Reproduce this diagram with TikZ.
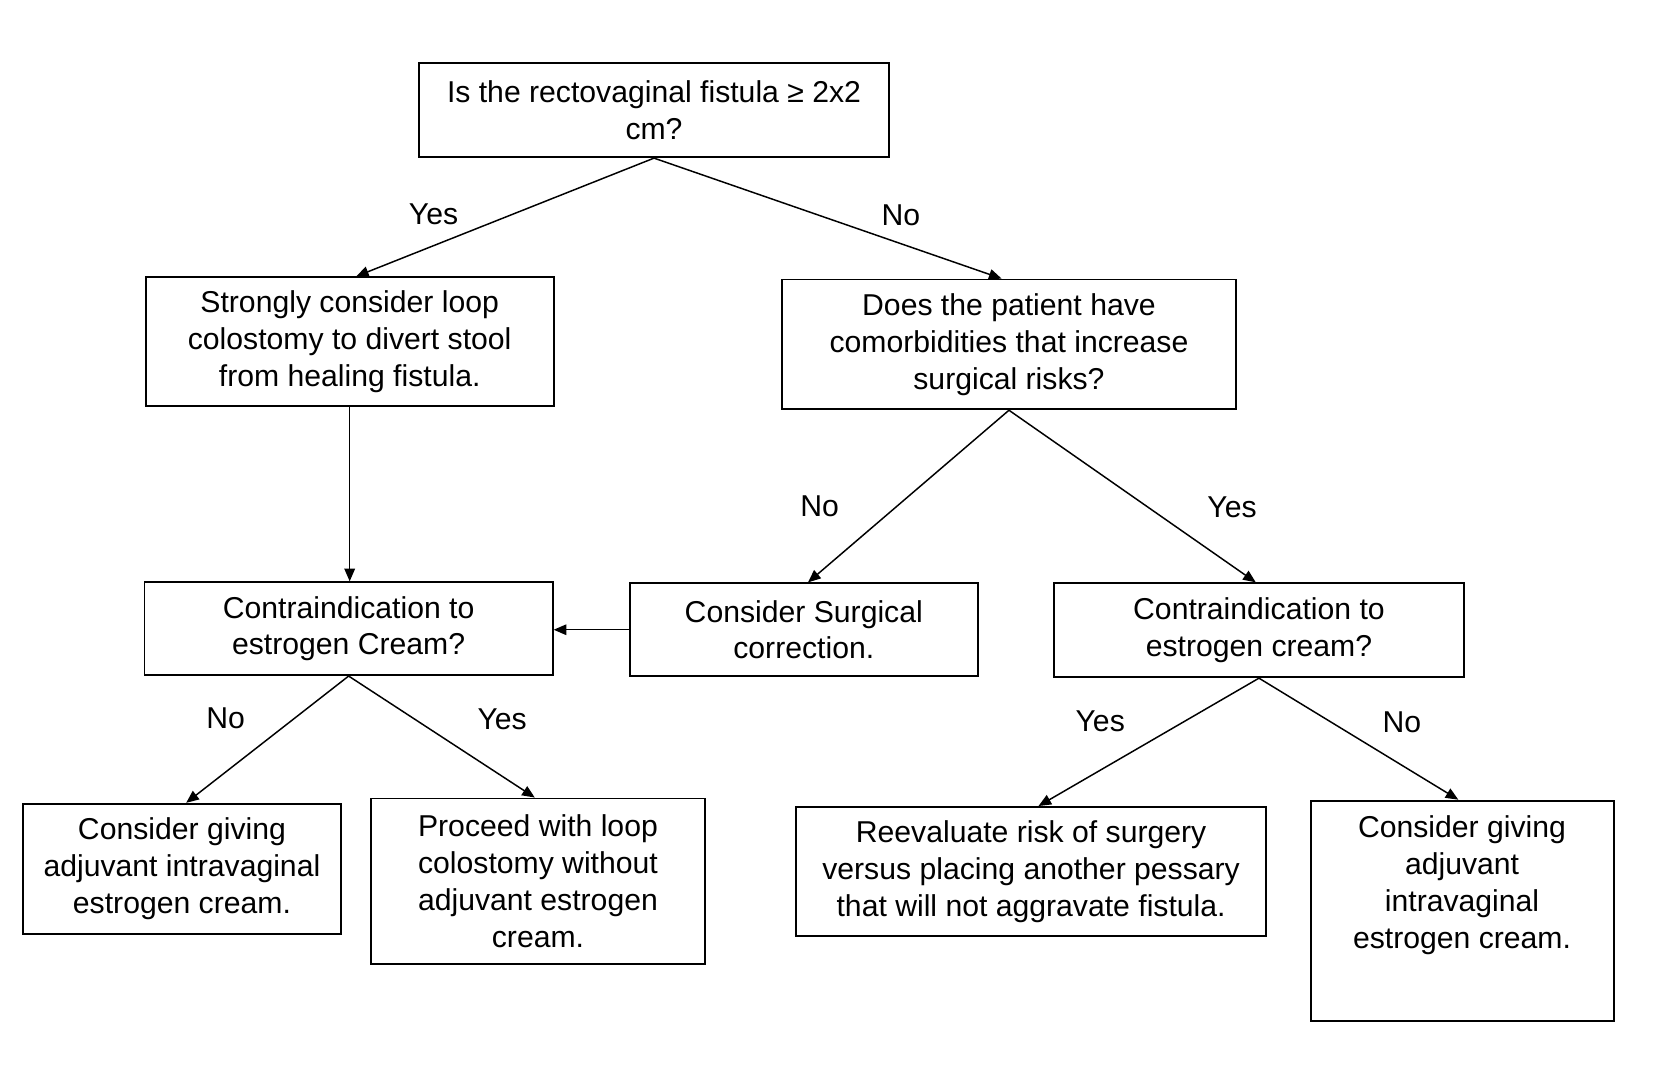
\documentclass[tikz,border=0pt]{standalone}
\usepackage{fontspec}
\setmainfont{Liberation Sans}
\usetikzlibrary{arrows.meta}
\begin{document}
\begin{tikzpicture}[x=0.5pt,y=-0.5pt,
	every node/.style={font=\fontsize{14.3}{17.5}\selectfont},
	box/.style={draw,line width=0.9pt,align=center,inner sep=0pt},
	arr/.style={-{Triangle[length=6pt,width=5pt]},line width=0.7pt}]
	\useasboundingbox (0,0) rectangle (1568,1022);
	
	%question boxes
	\node[box,minimum width=223pt,minimum height=44.5pt] (fistula) at (620,104.5){Is the rectovaginal fistula ≥ 2x2\\cm?};
	\node[box,minimum width=193.5pt,minimum height=61pt] (loop) at (331.5,324){Strongly consider loop\\colostomy to divert stool\\from healing fistula.};
	\node[box,minimum width=215.5pt,minimum height=61.5pt] (comorb) at (956.5,326.5){Does the patient have\\comorbidities that increase\\surgical risks?};
	\node[box,minimum width=193.5pt,minimum height=44pt] (contraL) at (330.5,596){Contraindication to\\estrogen Cream?};
	\node[box,minimum width=165pt,minimum height=44pt] (surg) at (762,597){Consider Surgical\\correction.};
	\node[box,minimum width=194.5pt,minimum height=44.5pt] (contraR) at (1193.5,597.5){Contraindication to\\estrogen cream?};
	
	%outcome boxes
	\node[box,minimum width=150.5pt,minimum height=61.5pt] (creamL) at (172.5,823.5){Consider giving\\adjuvant intravaginal\\estrogen cream.};
	\node[box,minimum width=158pt,minimum height=78.5pt] (proceed) at (510,835.5){Proceed with loop\\colostomy without\\adjuvant estrogen\\cream.};
	\node[box,minimum width=222.5pt,minimum height=61pt] (reeval) at (977.5,826){Reevaluate risk of surgery\\versus placing another pessary\\that will not aggravate fistula.};
	\node[box,minimum width=143.5pt,minimum height=104.5pt] (creamR) at (1386.5,863.5){};
	\node[align=center,inner sep=0pt] (creamRtext) at (1386,839){Consider giving\\adjuvant\\intravaginal\\estrogen cream.};
	
	%arrows
	\draw[arr] (fistula.south) -- ([xshift=3pt]loop.north);
	\draw[arr] (fistula.south) -- ([xshift=-3.5pt]comorb.north);
	\draw[arr] (loop.south) -- (loop.south |- contraL.north);
	\draw[arr] (comorb.south) -- ([xshift=2pt]surg.north);
	\draw[arr] (comorb.south) -- ([xshift=-1.5pt]contraR.north);
	\draw[arr] (surg.west) -- (surg.west -| contraL.east);
	\draw[arr] (contraL.south) -- ([xshift=2pt]creamL.north);
	\draw[arr] (contraL.south) -- ([xshift=-1.5pt]proceed.north);
	\draw[arr] (contraR.south) -- ([xshift=3.5pt]reeval.north);
	\draw[arr] (contraR.south) -- ([xshift=-2pt]creamR.north);
	
	%labels
	\node (yes1) at (411,203){Yes};
	\node (no1) at (854,204){No};
	\node (no2) at (777,480){No};
	\node (yes2) at (1168,481){Yes};
	\node (no3) at (214,681){No};
	\node (yes3) at (476,682){Yes};
	\node (yes4) at (1043,684){Yes};
	\node (no4) at (1329,685){No};
\end{tikzpicture}
\end{document}
